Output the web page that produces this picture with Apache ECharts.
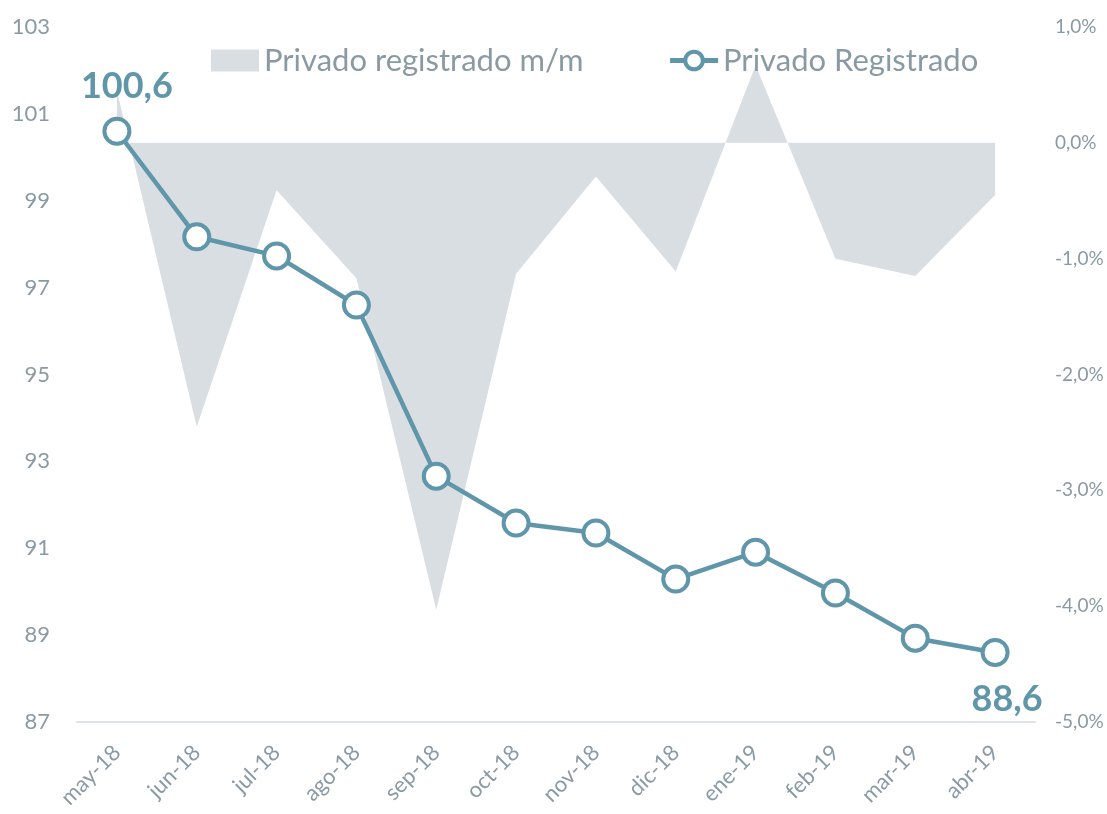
<!DOCTYPE html>
<html>
<head>
<meta charset="utf-8">
<script src="https://cdn.jsdelivr.net/npm/echarts@6/dist/echarts.min.js"></script>
<style>
html,body{margin:0;padding:0;background:#fff;}
#chart{width:1107px;height:814px;}
</style>
</head>
<body>
<div id="chart"></div>
<script>
const categories = ['may-18','jun-18','jul-18','ago-18','sep-18','oct-18','nov-18','dic-18','ene-19','feb-19','mar-19','abr-19'];
const indexValues = [100.6, 98.17, 97.73, 96.6, 92.66, 91.58, 91.35, 90.29, 90.91, 89.97, 88.93, 88.6];
const momValues = [0.45, -2.45, -0.41, -1.17, -4.03, -1.13, -0.29, -1.11, 0.67, -1.0, -1.15, -0.45];
const leftTicks = {min: 87, max: 103, interval: 2};
const rightTicks = {min: -5, max: 1, interval: 1};

const lineColor = '#5f96aa';
const areaColor = '#d9dee2';
const textColor = '#8a9aa5';
const font = 'Lato, "Open Sans", sans-serif';

const lastIdx = indexValues.length - 1;
const lineData = indexValues.map((v, i) => {
  if (i === 0) return {value: v, label: {show: true, position: 'top', distance: 12, offset: [10, 0]}};
  if (i === lastIdx) return {value: v, label: {show: true, position: 'bottom', distance: 14, offset: [12, 0]}};
  return v;
});

const chart = echarts.init(document.getElementById('chart'));
chart.setOption({
  animation: false,
  textStyle: {fontFamily: font},
  legend: {
    top: 40,
    left: 206,
    itemGap: 84,
    itemWidth: 48,
    itemHeight: 22,
    textStyle: {fontSize: 31, color: textColor, fontFamily: font},
    data: [
      {name: 'Privado registrado m/m', icon: 'rect', itemStyle: {color: areaColor}},
      {name: 'Privado Registrado', lineStyle: {width: 5, color: lineColor}, itemStyle: {color: '#fff', borderColor: lineColor, borderWidth: 4}}
    ]
  },
  grid: {left: 77, right: 72, top: 27, bottom: 92},
  xAxis: {
    type: 'category',
    data: categories,
    boundaryGap: true,
    axisLine: {onZero: false, lineStyle: {color: '#e0e3e6', width: 2}},
    axisTick: {show: false},
    axisLabel: {rotate: 45, fontSize: 22, color: textColor, margin: 27, fontFamily: font, interval: 0}
  },
  yAxis: [
    {
      type: 'value',
      min: leftTicks.min, max: leftTicks.max, interval: leftTicks.interval,
      axisLine: {show: false}, axisTick: {show: false}, splitLine: {show: false},
      axisLabel: {fontSize: 22, color: textColor, margin: 27, fontFamily: font}
    },
    {
      type: 'value',
      min: rightTicks.min, max: rightTicks.max, interval: rightTicks.interval,
      axisLine: {show: false}, axisTick: {show: false}, splitLine: {show: false},
      axisLabel: {fontSize: 19, color: textColor, margin: 20, fontFamily: font,
        formatter: v => v.toFixed(1).replace('.', ',') + '%'}
    }
  ],
  series: [
    {
      name: 'Privado registrado m/m',
      type: 'line',
      yAxisIndex: 1,
      data: momValues,
      symbol: 'none',
      lineStyle: {width: 0},
      itemStyle: {color: areaColor},
      areaStyle: {color: areaColor, opacity: 1},
      z: 1
    },
    {
      name: 'Privado Registrado',
      type: 'line',
      yAxisIndex: 0,
      data: lineData,
      symbol: 'circle',
      symbolSize: 25,
      showAllSymbol: true,
      lineStyle: {color: lineColor, width: 4.5},
      itemStyle: {color: '#ffffff', borderColor: lineColor, borderWidth: 4},
      label: {
        show: false,
        color: lineColor,
        fontSize: 36,
        fontWeight: 'bold',
        fontFamily: font,
        formatter: p => p.value.toFixed(1).replace('.', ',')
      },
      z: 3
    }
  ]
});
</script>
</body>
</html>
